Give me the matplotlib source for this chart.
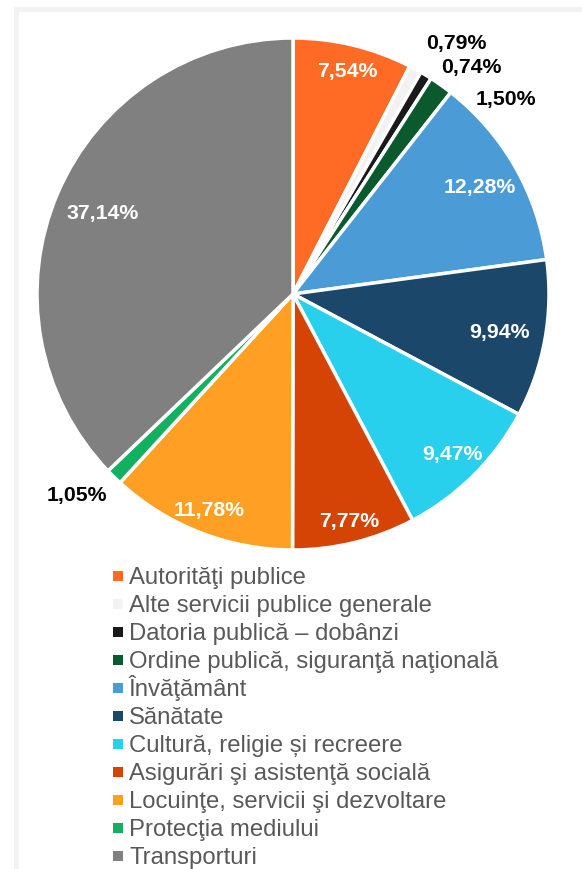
import matplotlib
matplotlib.use("Agg")
import matplotlib.pyplot as plt
from matplotlib.patches import Rectangle
import numpy as np

plt.rcParams['font.family'] = ['Liberation Sans', 'DejaVu Sans']

# data
categories = ["Autorităţi publice", "Alte servicii publice generale",
              "Datoria publică – dobânzi", "Ordine publică, siguranţă naţională",
              "Învăţământ", "Sănătate", "Cultură, religie și recreere",
              "Asigurări şi asistenţă socială", "Locuinţe, servicii şi dezvoltare",
              "Protecţia mediului", "Transporturi"]
shares = [7.54, 0.79, 0.74, 1.50, 12.28, 9.94, 9.47, 7.77, 11.78, 1.05, 37.14]
colors = ["#FF6A24", "#F2F2F2", "#1A1A1A", "#0B5A2E", "#4A9BD6", "#1B476B",
          "#28D0EE", "#D64405", "#FFA024", "#13B061", "#808080"]

# label layout: radial fraction, angle shift (deg), inside?
label_r = [0.90, 1.17, 1.13, 1.13, 0.84, 0.82, 0.88, 0.91, 0.905, 1.15, 0.81]
label_da = [0, -4.4, -6.7, -12.1, 0, 0, 0, 0, 0, -2.8, 0]
inside = [True, False, False, False, True, True, True, True, True, False, True]

W, H = 582, 870
fig = plt.figure(figsize=(W / 100, H / 100), dpi=100)

# light frame around chart area (cut at right/bottom)
fig.patches.append(Rectangle((15.5 / W, -0.1), 1.2, (H - 9.5) / H + 0.1,
                             transform=fig.transFigure, fill=False,
                             edgecolor="#F2F2F2", lw=3.6))

cx, cy, R = 293, 295, 256
ax = fig.add_axes([(cx - R) / W, (H - cy - R) / H, 2 * R / W, 2 * R / H])
wedges, _ = ax.pie(shares, colors=colors, startangle=90, counterclock=False,
                   radius=1, wedgeprops=dict(edgecolor="white", linewidth=2.5))
ax.set_xlim(-1, 1)
ax.set_ylim(-1, 1)
ax.axis("off")

cum = np.cumsum([0] + shares[:-1])
for i, v in enumerate(shares):
    mid = 90 - (cum[i] + v / 2) * 3.6 + label_da[i]
    x = label_r[i] * np.cos(np.radians(mid))
    y = label_r[i] * np.sin(np.radians(mid))
    txt = f"{v:.2f}%".replace(".", ",")
    ax.text(x, y, txt, ha="center", va="center", fontsize=15.3, fontweight="bold",
            color="white" if inside[i] else "black")

# legend, drawn row by row in pixel space
lg = fig.add_axes([0, 0, 1, 1], zorder=-1)
lg.set_xlim(0, W)
lg.set_ylim(H, 0)
lg.axis("off")
for i, (lab, c) in enumerate(zip(categories, colors)):
    ry = 577 + 28 * i
    lg.scatter(118, ry, marker="s", s=42, color=c, linewidths=0)
    lg.text(129, ry + 7.5, lab, fontsize=17.2, color="#595959", va="baseline", ha="left")

fig.savefig("out.png", dpi=100)
